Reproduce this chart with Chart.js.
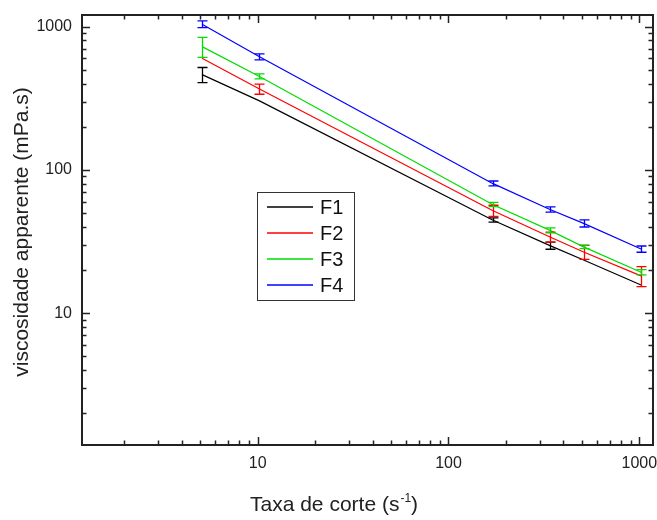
<!DOCTYPE html>
<html>
<head>
<meta charset="utf-8">
<script src="https://cdn.jsdelivr.net/npm/chart.js@4/dist/chart.umd.min.js"></script>
<style>
  html, body { margin: 0; padding: 0; background: #fff; }
</style>
</head>
<body>
<canvas id="visc-chart" width="657" height="520"></canvas>
<script>
// shear rates (Fann rpm x 1.7023) and apparent viscosity per formulation
const shearRate = [5.11, 10.22, 170.23, 340.46, 510.69, 1021.38];
const f1 = [462, 303, 44.7, 29.6, 23.5, 15.7];
const f1Err = [56, null, 1.5, 1.7, null, null];
const f2 = [601, 367, 52.0, 34.0, 26.7, 18.2];
const f2Err = [null, 30, 4.6, 2.7, 3.0, 2.9];
const f3 = [725, 449, 57.3, 37.8, 29.0, 19.3];
const f3Err = [115, 18, 2.0, 1.5, 0.8, 0.8];
const f4 = [1040, 615, 80.4, 52.9, 42.3, 28.0];
const f4Err = [55, 30, 3.2, 2.2, 2.4, 1.4];

const seriesNames = ["F1", "F2", "F3", "F4"];
const seriesColors = ["#000000", "#ff0000", "#00dd00", "#0000ff"];
const tickLabelsX = [10, 100, 1000];
const tickLabelsY = [10, 100, 1000];

const FONT = "'Liberation Sans', Arial, sans-serif";

function pts(ys) {
	return ys.map((y, i) => ({ x: shearRate[i], y: y }));
}

const values = [f1, f2, f3, f4];
const errors = [f1Err, f2Err, f3Err, f4Err];

// tick values for a log axis between 1 and 1000
function logTicks() {
	const out = [];
	for (let d = 1; d <= 1000; d *= 10) {
		for (let m = 1; m <= 9; m++) {
			out.push({ v: d * m, major: m === 1 });
		}
	}
	return out;
}

const framePlugin = {
	id: "frame",
	afterDatasetsDraw(chart) {
		const c = chart.ctx;
		const a = chart.chartArea;
		const xs = chart.scales.x;
		const ys = chart.scales.y;

		// error bars
		c.save();
		c.lineWidth = 1.3;
		values.forEach((vals, si) => {
			c.strokeStyle = seriesColors[si];
			vals.forEach((v, i) => {
				const e = errors[si][i];
				if (!e) return;
				const px = Math.round(xs.getPixelForValue(shearRate[i])) + 0.5;
				const top = ys.getPixelForValue(v + e);
				const bot = ys.getPixelForValue(v - e);
				c.beginPath();
				c.moveTo(px, top);
				c.lineTo(px, bot);
				c.moveTo(px - 5, top);
				c.lineTo(px + 5, top);
				c.moveTo(px - 5, bot);
				c.lineTo(px + 5, bot);
				c.stroke();
			});
		});
		c.restore();

		// box frame with inward ticks
		c.save();
		c.strokeStyle = "#222";
		c.lineWidth = 2;
		c.strokeRect(a.left, a.top, a.right - a.left, a.bottom - a.top);
		c.lineWidth = 1.5;
		c.beginPath();
		logTicks().forEach((t) => {
			const len = t.major ? 8 : 4.5;
			if (t.v >= xs.min && t.v <= xs.max) {
				const px = Math.round(xs.getPixelForValue(t.v)) + 0.5;
				c.moveTo(px, a.bottom);
				c.lineTo(px, a.bottom - len);
				c.moveTo(px, a.top);
				c.lineTo(px, a.top + len);
			}
			if (t.v >= ys.min && t.v <= ys.max) {
				const py = Math.round(ys.getPixelForValue(t.v)) + 0.5;
				c.moveTo(a.left, py);
				c.lineTo(a.left + len, py);
				c.moveTo(a.right, py);
				c.lineTo(a.right - len, py);
			}
		});
		c.stroke();
		c.restore();

		// legend
		c.save();
		c.lineWidth = 1;
		c.strokeStyle = "#333";
		c.strokeRect(257.5, 192.5, 97, 108);
		c.font = "20px " + FONT;
		c.textBaseline = "middle";
		seriesNames.forEach((n, i) => {
			const y = 207 + i * 26;
			c.beginPath();
			c.strokeStyle = seriesColors[i];
			c.lineWidth = 1.5;
			c.moveTo(267, y);
			c.lineTo(313, y);
			c.stroke();
			c.fillStyle = "#111";
			c.fillText(n, 320, y + 1);
		});
		c.restore();

		// axis titles
		c.save();
		c.fillStyle = "#222";
		c.font = "21px " + FONT;
		c.textBaseline = "middle";
		let x0 = 250;
		const main = "Taxa de corte (s";
		c.fillText(main, x0, 505);
		x0 += c.measureText(main).width;
		c.font = "12px " + FONT;
		c.fillText("-1", x0 + 1, 499);
		x0 += c.measureText("-1").width + 1;
		c.font = "21px " + FONT;
		c.fillText(")", x0, 505);

		c.translate(22, 232);
		c.rotate(-Math.PI / 2);
		c.textAlign = "center";
		c.fillText("viscosidade apparente (mPa.s)", 0, 0);
		c.restore();
	},
};

const ctx = document.getElementById("visc-chart");
new Chart(ctx, {
	type: "line",
	data: {
		datasets: values.map((vals, i) => ({
			label: seriesNames[i],
			data: pts(vals),
			borderColor: seriesColors[i],
			borderWidth: 1.2,
			pointRadius: 0,
			tension: 0,
			fill: false,
		})),
	},
	options: {
		responsive: false,
		animation: false,
		layout: { padding: { top: 15, right: 4, left: 0, bottom: 0 } },
		plugins: { legend: { display: false }, tooltip: { enabled: false } },
		scales: {
			x: {
				type: "logarithmic",
				position: "bottom",
				min: 1.2,
				max: 1180,
				grid: { display: false, drawTicks: false },
				border: { display: false },
				afterBuildTicks: (s) => {
					s.ticks = tickLabelsX.map((v) => ({ value: v }));
				},
				afterFit: (s) => {
					s.height = 75;
					s.paddingLeft = 0;
					s.paddingRight = 0;
				},
				ticks: {
					autoSkip: false,
					maxRotation: 0,
					padding: 9,
					color: "#222",
					font: { family: FONT, size: 16 },
					callback: (v) => String(v),
				},
			},
			y: {
				type: "logarithmic",
				position: "left",
				min: 1.2,
				max: 1205,
				grid: { display: false, drawTicks: false },
				border: { display: false },
				afterBuildTicks: (s) => {
					s.ticks = tickLabelsY.map((v) => ({ value: v }));
				},
				afterFit: (s) => {
					s.width = 82;
					s.paddingTop = 0;
					s.paddingBottom = 0;
				},
				ticks: {
					autoSkip: false,
					padding: 10,
					color: "#222",
					font: { family: FONT, size: 16 },
					callback: (v) => String(v),
				},
			},
		},
	},
	plugins: [framePlugin],
});
</script>
</body>
</html>
